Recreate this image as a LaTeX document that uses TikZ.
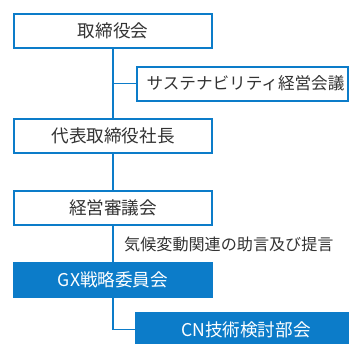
\documentclass[tikz,border=0pt]{standalone}
\usepackage{fontspec}
\newfontfamily\jp{Noto Sans CJK JP}
\definecolor{mainblue}{RGB}{12,124,201}
\definecolor{txtgray}{RGB}{51,51,51}
\begin{document}
\begin{tikzpicture}[x=1pt,y=-1pt,
  box/.style={draw=mainblue,line width=2pt,fill=white,rectangle,inner sep=0pt,
    minimum width=198pt,minimum height=34pt,text=txtgray,font=\jp\fontsize{17.6}{17.6}\selectfont},
  sidebox/.style={box,minimum width=211pt,font=\jp\fontsize{16.6}{16.6}\selectfont},
  solidbox/.style={box,fill=mainblue,text=white},
  conn/.style={draw=mainblue,line width=1.5pt}]
\useasboundingbox (0,0) rectangle (351,343);
\clip (0,0) rectangle (351,343);
\node[box] (board) at (113,31) {取締役会};
\node[sidebox] (sust) at (242.5,83.5) {\hspace*{6pt}サステナビリティ経営会議};
\node[box] (ceo) at (113,135.5) {代表取締役社長};
\node[box] (mgmt) at (113,207.5) {経営審議会};
\node[solidbox] (gx) at (113,279.5) {GX戦略委員会};
\node[solidbox,minimum width=212pt] (cn) at (242,329.5) {\hspace*{8pt}CN技術検討部会};
\node[text=txtgray,font=\jp\fontsize{16.1}{16.1}\selectfont,anchor=west,inner sep=0pt] (advice) at (124,244) {気候変動関連の助言及び提言};
\draw[conn] (board.south) -- (ceo.north);
\draw[conn] (sust.west) -- (sust.west -| board.south);
\draw[conn] (ceo.south) -- (mgmt.north);
\draw[conn] (mgmt.south) -- (gx.north);
\draw[conn] (gx.south) |- (cn.west);
\end{tikzpicture}
\end{document}
